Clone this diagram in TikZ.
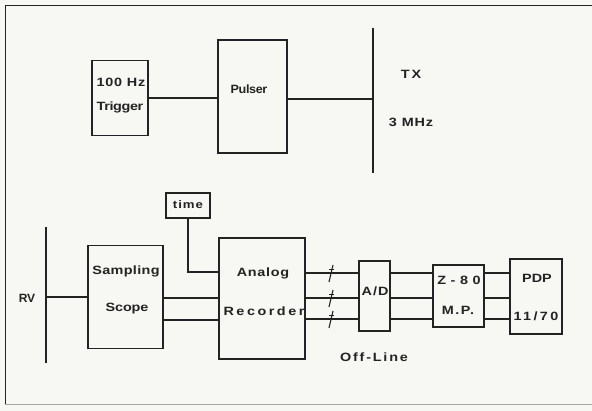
\documentclass[tikz,border=0pt]{standalone}
\usepackage{fontspec}
\setmainfont{Liberation Sans}
\newfontfamily\labfont{Liberation Sans}[BoldFont={Liberation Sans Bold}]
\newcommand\ls[3][1.2]{{\addfontfeatures{FakeStretch=#1,LetterSpace=#2}#3}}
\definecolor{ink}{RGB}{35,35,35}
\definecolor{paper}{RGB}{247,247,244}
\begin{document}
\begin{tikzpicture}[x=1pt,y=-1pt,
  box/.style={draw=ink,line width=1.4pt,inner sep=0pt,outer sep=0pt},
  lbl/.style={text=ink,inner sep=0pt,font=\labfont\bfseries\fontsize{12}{14}\selectfont},
  wire/.style={draw=ink,line width=1.4pt},
  bar/.style={draw=ink,line width=2pt},
  slashmark/.pic={\draw[ink,line width=1.1pt] (-2,9) -- (2,-8); \draw[ink,line width=1pt] (-2,-3) -- (3,-3);}
]
\fill[paper] (0,0) rectangle (592,411);
\useasboundingbox (0,0) rectangle (592,411);
% frame
\draw[ink,line width=0.9pt] (5,405) -- (5,5) -- (592,5);
\draw[black!35,line width=0.8pt] (5,404) -- (592,404);

% top row
\node[box,minimum width=56pt,minimum height=75pt] (trig) at (120,98) {};
\node[box,minimum width=69pt,minimum height=113pt] (pulser) at (252.5,96.5) {};
\coordinate (txtop) at (373,28);
\coordinate (txbot) at (373,173);
\draw[bar] (txtop) -- (txbot);
\draw[wire] (trig.east) -- (trig.east -| pulser.west);
\draw[wire] ([yshift=-2.5pt]pulser.east) -- ([yshift=-2.5pt]pulser.east -| txtop);

\node[lbl] (t100) at (121,82) {\ls{6}{100 Hz}};
\node[lbl] (ttrig) at (120,107) {\ls{-3}{Trigger}};
\node[lbl] (tpuls) at (249,89) {\ls[1.05]{-3}{Pulser}};
\node[lbl] (ttx) at (411,74) {\ls{15}{TX}};
\node[lbl] (tmhz) at (411,122) {\ls{7}{3 MHz}};

% bottom row
\coordinate (rvtop) at (46,227);
\coordinate (rvbot) at (46,363);
\draw[bar] (rvtop) -- (rvbot);
\node[box,minimum width=75pt,minimum height=103pt] (samp) at (125.5,297) {};
\node[box,minimum width=44pt,minimum height=25pt] (time) at (188,205.5) {};
\node[box,minimum width=86pt,minimum height=121pt] (ana) at (262,298.5) {};
\node[box,minimum width=31pt,minimum height=70pt] (ad) at (374.5,296) {};
\node[box,minimum width=51pt,minimum height=62pt] (z80) at (458.5,296) {};
\node[box,minimum width=52pt,minimum height=75pt] (pdp) at (536,296.5) {};

\draw[wire] (samp.west) -- (samp.west -| rvtop);
\draw[wire] (time.south) -- (time.south |- 0,272) -- (ana.west |- 0,272);
\foreach \yy in {298,320}{
  \draw[wire] (samp.east |- 0,\yy) -- (ana.west |- 0,\yy);
}
\foreach \yy in {273,298,319}{
  \draw[wire] (ana.east |- 0,\yy) -- (ad.west |- 0,\yy);
  \draw[wire] (ad.east |- 0,\yy) -- (z80.west |- 0,\yy);
  \draw[wire] (z80.east |- 0,\yy) -- (pdp.west |- 0,\yy);
  \pic at (331,\yy) {slashmark};
}

\node[lbl] (trv) at (27,298) {\ls[1]{0}{RV}};
\node[lbl] (tsamp) at (126,271) {\ls{3}{Sampling}};
\node[lbl] (tscope) at (127,309) {\ls{-1}{Scope}};
\node[lbl,font=\labfont\bfseries\fontsize{11}{13}\selectfont] (ttime) at (188,205) {\ls{9}{time}};
\node[lbl] (tanalog) at (263,273) {\ls{6}{Analog}};
\node[lbl] (trec) at (264,311) {\ls{21}{Recorder}};
\node[lbl] (tad) at (375,291) {\ls{9}{A/D}};
\node[lbl] (tz80) at (459,280) {\ls{38}{Z-80}};
\node[lbl] (tmp) at (458,310) {\ls{13}{M.P.}};
\node[lbl] (tpdp) at (537,278) {\ls{0}{PDP}};
\node[lbl] (t1170) at (536,316) {\ls{20}{11/70}};
\node[lbl] (toff) at (374,357) {\ls{15}{Off-Line}};
\end{tikzpicture}
\end{document}
